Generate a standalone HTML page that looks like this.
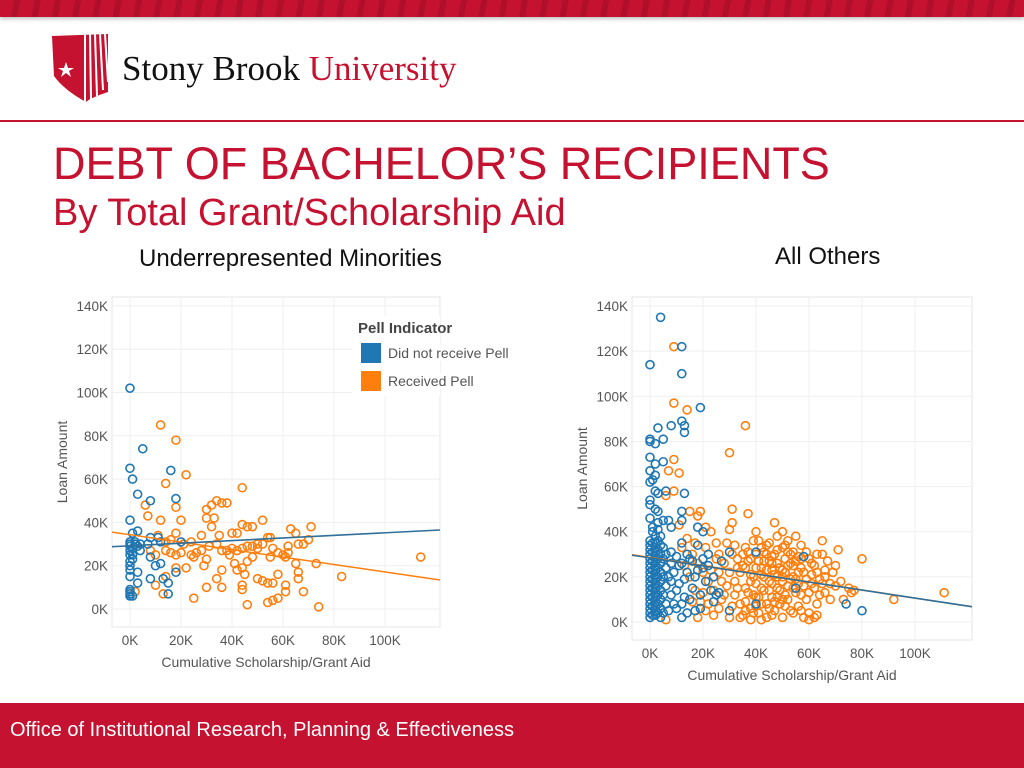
<!DOCTYPE html>
<html><head><meta charset="utf-8">
<style>
body{margin:0;width:1024px;height:768px;overflow:hidden;background:#fff;font-family:"Liberation Sans",sans-serif;position:relative}
.abs{position:absolute}
</style></head><body>
<div class="abs" style="left:0;top:0;width:1024px;height:17px;background:repeating-linear-gradient(100deg,#c41230 0 14px,#b00f2a 14px 20px);box-shadow:0 2px 4px rgba(0,0,0,.25)"></div>
<svg class="abs" style="left:50px;top:32px" width="420" height="74">
<path d="M2,4 L58,2 L58,60 Q40,66 36,70 Q14,58 4,44 Z" fill="#c41230"/>
<polygon points="16,30 18,36 24,36 19,39 21,45 16,41 11,45 13,39 8,36 14,36" fill="#fff"/>
<g stroke="#fff" stroke-width="2"><line x1="35" y1="2" x2="35" y2="72"/><line x1="40" y1="2" x2="41" y2="68"/><line x1="45" y1="2" x2="47" y2="64"/><line x1="50" y1="2" x2="53" y2="58"/><line x1="55" y1="2" x2="58" y2="50"/></g>
<text x="72" y="48" font-family="Liberation Serif,serif" font-size="35" fill="#111">Stony Brook <tspan fill="#c41230">University</tspan></text>
</svg>
<div class="abs" style="left:0;top:120px;width:1024px;height:2px;background:#c41230"></div>
<div class="abs" style="left:53px;top:138px;font-size:45px;color:#c41230;white-space:nowrap">DEBT OF BACHELOR’S RECIPIENTS</div>
<div class="abs" style="left:53px;top:192px;font-size:38px;color:#c41230;white-space:nowrap">By Total Grant/Scholarship Aid</div>
<div class="abs" style="left:139px;top:245px;font-size:24px;color:#111;white-space:nowrap">Underrepresented Minorities</div>
<div class="abs" style="left:775px;top:243px;font-size:24px;color:#111;white-space:nowrap">All Others</div>
<svg class="abs" id="chart" style="left:0;top:0" width="1024" height="700"></svg>
<div class="abs" style="left:0;top:703px;width:1024px;height:65px;background:#c41230"></div>
<div class="abs" style="left:10px;top:719px;font-size:20px;color:#fff;white-space:nowrap">Office of Institutional Research, Planning &amp; Effectiveness</div>
<script>
const xTicks=[0,20,40,60,80,100];
const yTicks=[0,20,40,60,80,100,120,140];
const leftBlue=[[0,102],[5,74],[0,65],[1,60],[16,64],[3,53],[8,50],[18,51],[0,41],[1,35],[3,36],[0,31],[0,30],[0,29],[1,28],[0,27],[0,25],[0,22],[0,20],[0,15],[0,9],[0,8],[0,7],[0,6],[1,6],[2,30],[3,29],[4,30],[7,30],[8,33],[11,33],[12,31],[20,31],[4,27],[8,24],[10,20],[12,21],[3,17],[18,17],[8,14],[13,14],[15,12],[15,7],[3,12],[2,31],[1,25],[1,23],[0,18]];
const leftOrange=[[12,85],[18,78],[14,58],[22,62],[44,56],[18,47],[6,48],[7,43],[12,41],[20,41],[30,46],[32,48],[36,49],[38,49],[34,50],[30,42],[33,42],[32,38],[46,38],[48,38],[44,39],[52,41],[40,35],[42,35],[28,34],[35,34],[11,34],[14,31],[16,32],[18,35],[21,30],[24,25],[25,24],[29,20],[30,23],[28,27],[31,29],[36,27],[38,27],[40,28],[42,27],[44,28],[46,29],[48,29],[50,30],[52,30],[54,33],[55,33],[56,28],[58,26],[60,25],[61,24],[62,26],[63,37],[65,35],[66,30],[68,30],[70,32],[71,38],[62,29],[55,24],[46,22],[41,21],[44,19],[45,16],[44,11],[44,9],[50,14],[52,13],[54,12],[56,12],[58,16],[61,11],[61,8],[58,5],[56,4],[54,3],[46,2],[36,10],[30,10],[25,5],[68,8],[65,21],[66,14],[66,17],[73,21],[74,1],[83,15],[114,24],[2,8],[10,11],[13,7],[14,15],[16,26],[18,19],[20,26],[22,19],[18,25],[10,25],[14,27],[8,27],[34,30],[39,25],[42,18],[48,24],[50,28],[36,18],[34,14],[26,26],[24,31]];
const rightBlue=[[4,135],[0,114],[12,122],[12,110],[19,95],[3,86],[8,87],[12,89],[13,87],[13,84],[0,81],[0,80],[2,79],[5,81],[0,73],[2,70],[5,71],[0,67],[2,65],[0,62],[1,63],[2,58],[3,57],[6,58],[13,57],[0,54],[0,52],[2,50],[3,49],[12,49],[0,46],[3,44],[5,45],[7,45],[12,45],[8,42],[18,42],[20,40],[1,40],[2,38],[4,38],[12,35],[18,34],[30,31],[40,31],[58,29],[55,15],[40,8],[30,5],[74,8],[80,5],
[0,2],[0,4],[0,6],[0,8],[0,10],[0,12],[0,14],[0,16],[0,18],[0,20],[0,22],[0,24],[0,26],[0,28],[0,30],[0,32],[0,34],[0,36],[2,3],[2,5],[2,7],[2,9],[2,11],[2,13],[2,15],[2,17],[2,19],[2,21],[2,23],[2,25],[2,27],[2,29],[2,31],[2,33],[2,35],[4,2],[4,6],[4,10],[4,14],[4,18],[4,22],[4,26],[4,30],[4,34],[1,42],[3,41],[5,28],[6,24],[7,20],[6,16],[8,12],[9,8],[10,29],[12,26],[14,22],[11,17],[15,10],[17,5],[12,2],[10,6],[16,27],[20,28],[22,25],[24,20],[25,12],[26,13],[19,6],[8,31],[14,30],[18,23],[21,18],[7,5],[13,11],[27,27],
[1,3],[1,7],[1,11],[1,15],[1,19],[1,23],[1,27],[1,31],[1,35],[3,4],[3,8],[3,12],[3,16],[3,20],[3,24],[3,28],[3,32],[3,36],[5,4],[5,12],[5,20],[5,33],[6,8],[6,30],[8,26],[8,18],[9,22],[10,14],[11,25],[12,8],[13,19],[14,4],[15,28],[16,15],[17,20],[19,12],[20,24],[22,30],[23,14],[24,9]];
const rightOrange=[[9,122],[9,97],[14,94],[36,87],[30,75],[9,72],[7,67],[11,66],[9,58],[6,56],[31,50],[37,48],[15,49],[19,49],[18,47],[11,43],[21,42],[30,41],[31,44],[47,44],[40,40],[50,40],[71,32],[80,28],[111,13],[92,10],[77,14],[76,13],[65,36],[63,30],[66,23],[70,16],[73,10],[68,10],[60,1],[62,2],[6,1],
[16,30],[18,26],[20,22],[22,18],[17,14],[19,9],[21,5],[24,3],[26,30],[28,26],[30,22],[29,16],[27,10],[30,2],[32,34],[33,28],[34,22],[33,15],[34,8],[35,3],[36,33],[37,27],[38,21],[37,13],[38,6],[39,36],[40,30],[40,24],[40,17],[41,11],[41,4],[42,33],[43,27],[43,20],[43,14],[44,8],[44,2],[45,35],[46,29],[46,23],[46,17],[46,11],[47,5],[48,32],[48,26],[48,20],[49,14],[49,8],[50,2],[51,34],[51,28],[51,22],[52,16],[52,10],[53,5],[54,31],[54,25],[55,19],[55,13],[56,7],[57,34],[57,28],[58,22],[58,16],[59,10],[60,4],[60,28],[61,21],[62,15],[63,8],[64,19],[66,13],[67,27],[69,22],[72,18],[75,15],[36,24],[38,18],[42,24],[44,30],[50,18],[53,26],[56,22],[45,14],[47,9],[39,12],[35,30],[41,36],[25,35],[23,40],[14,37],[12,33],[26,22],[28,12],[31,7],[50,10],[54,4],[58,2],[63,3],[48,38],[52,36],[55,38],[22,8],[18,2],[24,14],[32,18],[36,9],[40,7],[59,31],[62,25],[65,30],[42,1],[46,3],[38,1],
[35,25],[37,31],[39,20],[41,27],[42,15],[43,31],[44,23],[45,18],[45,27],[47,21],[47,30],[48,15],[49,24],[50,20],[50,33],[51,12],[52,25],[53,19],[53,30],[54,15],[55,27],[56,17],[57,24],[59,19],[60,13],[61,26],[63,22],[64,12],[65,17],[36,15],[38,28],[40,11],[42,21],[44,34],[46,26],[48,11],[50,23],[52,31],[54,20],[56,29],[33,24],[31,30],[29,35],[27,18],[25,28],[23,23],[21,33],[20,13],[17,35],[15,20],[13,25],[16,9],[26,6],[32,12],[34,2],[39,4],[45,6],[51,7],[57,5],[61,17],[66,20],[68,17],[70,25],[57,12],[42,8],[36,5]];
const svg=document.getElementById('chart');
const NS='http://www.w3.org/2000/svg';
function mk(tag,attrs){const e=document.createElementNS(NS,tag);for(const k in attrs)e.setAttribute(k,attrs[k]);svg.appendChild(e);return e;}
function drawChart(c,blue,orange,blueLine,orangeLine){
  const sx=v=>c.x0+v*c.kx, sy=v=>c.y0-v*c.ky;
  const bg=mk('rect',{x:c.l,y:c.t,width:c.r-c.l,height:c.b-c.t,fill:'#fff',stroke:'#e6e6e6'});
  
  
  xTicks.forEach(v=>{mk('line',{x1:sx(v),x2:sx(v),y1:c.t,y2:c.b,stroke:'#efefef'});
    const t=mk('text',{x:sx(v),y:c.b+18,'text-anchor':'middle','font-size':'13.5',fill:'#555'});t.textContent=v+'K';
    
    });
  yTicks.forEach(v=>{mk('line',{x1:c.l,x2:c.r,y1:sy(v),y2:sy(v),stroke:'#efefef'});
    const t=mk('text',{x:c.l-4,y:sy(v)+5,'text-anchor':'end','font-size':'13.5',fill:'#555'});t.textContent=v+'K';
    
    });
  const xt=mk('text',{x:(c.l+c.r)/2-10,y:c.b+40,'text-anchor':'middle','font-size':'14',fill:'#555'});xt.textContent='Cumulative Scholarship/Grant Aid';
  
  
  const yt=mk('text',{x:0,y:0,'text-anchor':'middle','font-size':'14',fill:'#555',transform:`translate(${c.l-45},${(c.t+c.b)/2}) rotate(-90)`});yt.textContent='Loan Amount';
  
  
  const xmin=(c.l-c.x0)/c.kx, xmax=(c.r-c.x0)/c.kx;
  orange.forEach(p=>{const e=mk('circle',{cx:sx(p[0]),cy:sy(p[1]),r:4,fill:'none',stroke:'#ff7f0e','stroke-width':1.6});
    
    });
  blue.forEach(p=>{const e=mk('circle',{cx:sx(p[0]),cy:sy(p[1]),r:4,fill:'none',stroke:'#1f77b4','stroke-width':1.6});
    
    });
  if(orangeLine){const l=mk('line',{x1:c.l,y1:sy(orangeLine[0]+orangeLine[1]*xmin),x2:c.r,y2:sy(orangeLine[0]+orangeLine[1]*xmax),stroke:'#ff7f0e','stroke-width':1.5});
    
    }
  const l2=mk('line',{x1:c.l,y1:sy(blueLine[0]+blueLine[1]*xmin),x2:c.r,y2:sy(blueLine[0]+blueLine[1]*xmax),stroke:'#2f6f9a','stroke-width':1.6});
  
  
}
const leftCfg={name:'left-chart',l:112,r:440,t:297,b:627,x0:130,kx:2.55,y0:609,ky:2.165};
const rightCfg={name:'right-chart',l:632,r:972,t:297,b:640,x0:650,kx:2.65,y0:622,ky:2.257};
drawChart(leftCfg,leftBlue,leftOrange,[29.2,0.06],[34.3,-0.172]);
drawChart(rightCfg,rightBlue,rightOrange,[28.4,-0.178],[28.6,-0.18]);
const lg=mk('rect',{x:352,y:316,width:88,height:80,fill:'#fff'});


</script>
<div class="abs" style="left:352px;top:318px;width:180px">
<div style="position:absolute;left:6px;top:2px;font-size:15px;font-weight:bold;color:#444;white-space:nowrap">Pell Indicator</div>
<div style="position:absolute;left:9px;top:25px;white-space:nowrap"><span style="display:inline-block;width:20px;height:20px;background:#1f77b4;vertical-align:middle"></span><span style="font-size:14px;color:#555;margin-left:7px;vertical-align:middle;background:#fff">Did not receive Pell</span></div>
<div style="position:absolute;left:9px;top:53px;white-space:nowrap"><span style="display:inline-block;width:20px;height:20px;background:#ff7f0e;vertical-align:middle"></span><span style="font-size:14px;color:#555;margin-left:7px;vertical-align:middle;background:#fff">Received Pell</span></div>
</div>
</body></html>
